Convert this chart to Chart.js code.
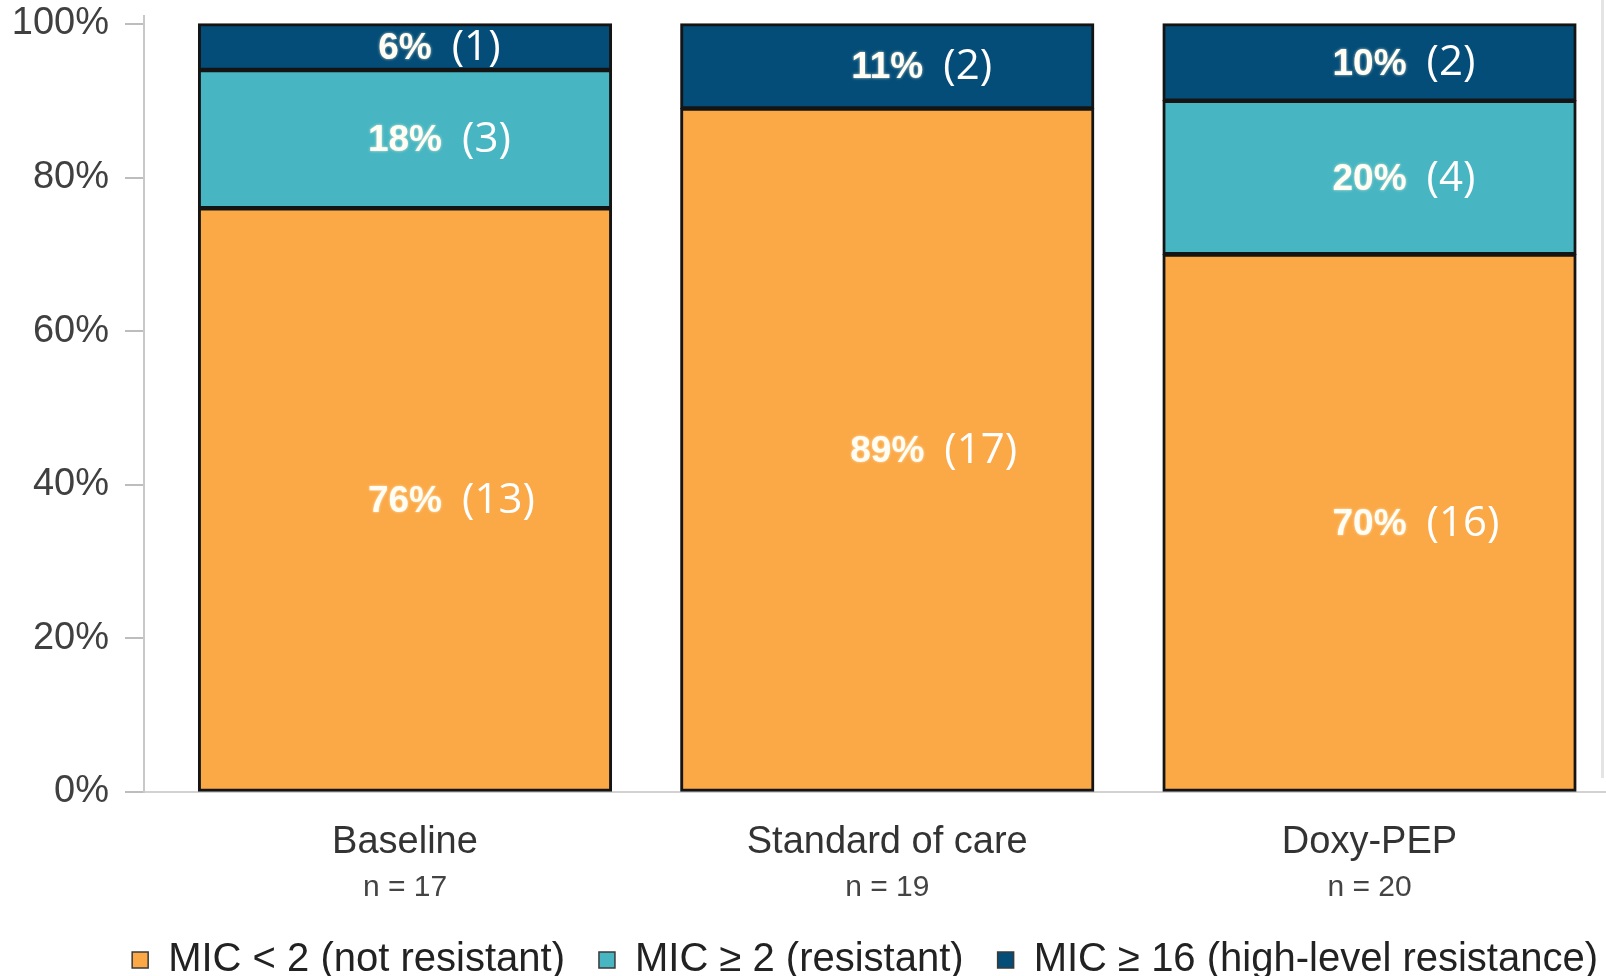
<!DOCTYPE html>
<html>
<head>
<meta charset="utf-8">
<script src="https://cdn.jsdelivr.net/npm/chart.js@4.4.1/dist/chart.umd.min.js"></script>
<style>
  html, body { margin: 0; padding: 0; background: #fff; overflow: hidden; }
  #wrap { position: relative; width: 1606px; height: 976px; overflow: hidden; }
  #c { position: absolute; left: 0; top: 0; }
  #edge { position: absolute; left: 1601px; top: 0; width: 3px; height: 778px; background: #e4e4e4; }
</style>
</head>
<body>
<div id="wrap">
  <canvas id="c" width="1632" height="976"></canvas>
  <div id="edge"></div>
</div>
<script>
// Categories and group sizes
const categories = ['Baseline', 'Standard of care', 'Doxy-PEP'];
const sampleSizes = ['n = 17', 'n = 19', 'n = 20'];

// Share of isolates per MIC class (%)
const notResistant = [76, 89, 70];
const resistant = [18, 0, 20];
const highLevel = [6, 11, 10];

// Isolate counts per MIC class
const notResistantCounts = [13, 17, 16];
const resistantCounts = [3, 0, 4];
const highLevelCounts = [1, 2, 2];

// Value-axis tick labels
const yTicks = [0, 20, 40, 60, 80, 100];

const seriesNames = ['MIC < 2 (not resistant)', 'MIC \u2265 2 (resistant)', 'MIC \u2265 16 (high-level resistance)'];
const seriesColors = ['#FBA846', '#47B6C2', '#044D78'];
const seriesValues = [notResistant, resistant, highLevel];
const seriesCounts = [notResistantCounts, resistantCounts, highLevelCounts];

const SANS = '"Liberation Sans", Arial, Helvetica, sans-serif';

// Writes "xx% (n)" inside each stacked segment
const segmentLabels = {
  id: 'segmentLabels',
  afterDatasetsDraw(chart) {
    const ctx = chart.ctx;
    chart.data.datasets.forEach((ds, di) => {
      const meta = chart.getDatasetMeta(di);
      meta.data.forEach((bar, i) => {
        const v = seriesValues[di][i];
        if (!v) return;
        const cy = (bar.y + bar.base) / 2 + 2;
        const pct = v + '%';
        const cnt = '(' + seriesCounts[di][i] + ')';
        ctx.save();
        ctx.textBaseline = 'middle';
        ctx.font = 'bold 37px ' + SANS;
        const w = ctx.measureText(pct).width;
        ctx.textAlign = 'center';
        ctx.shadowColor = 'rgba(255,248,220,0.75)';
        ctx.shadowBlur = 3;
        ctx.fillStyle = '#fffdf4';
        ctx.fillText(pct, bar.x, cy);
        ctx.shadowBlur = 0;
        ctx.shadowColor = 'rgba(0,0,0,0)';
        ctx.font = '42px "Open Sans", sans-serif';
        ctx.textAlign = 'left';
        ctx.fillStyle = '#ffffff';
        ctx.fillText(cnt, bar.x + w / 2 + 20, cy - 1);
        ctx.restore();
      });
    });
  }
};

const xMin = -0.5412;
const xMax = 2.5443;

const datasets = seriesNames.map((name, si) => ({
  label: name,
  data: seriesValues[si].map((v, i) => ({ x: i, y: v })),
  backgroundColor: seriesColors[si],
  borderColor: '#141414',
  borderWidth: { top: 3, bottom: 3, left: 3, right: 3 },
  borderSkipped: false,
  inflateAmount: 0.7,
  categoryPercentage: 1.0,
  barPercentage: 0.856,
  xAxisID: 'x',
  yAxisID: 'y'
}));

new Chart(document.getElementById('c'), {
  type: 'bar',
  data: { datasets },
  plugins: [segmentLabels],
  options: {
    responsive: false,
    devicePixelRatio: 1,
    animation: false,
    layout: { padding: { left: 0, top: 16, right: 0, bottom: -14 } },
    plugins: {
      tooltip: { enabled: false },
      legend: {
        position: 'bottom',
        align: 'end',
        labels: {
          font: { family: SANS, size: 40 },
          color: '#222',
          boxWidth: 16,
          boxHeight: 16,
          padding: 34,
          generateLabels: chart => Chart.defaults.plugins.legend.labels.generateLabels(chart)
            .map(l => Object.assign(l, { lineWidth: 1.5, strokeStyle: '#3a3a3a' }))
        }
      }
    },
    scales: {
      x: {
        type: 'linear',
        position: 'bottom',
        stacked: true,
        offset: false,
        min: xMin,
        max: xMax,
        weight: 0,
        afterBuildTicks: s => { s.ticks = categories.map((_, i) => ({ value: i })); },
        afterFit: s => { s.height = 70; s.paddingLeft = 0; s.paddingRight = 0; },
        ticks: {
          callback: v => categories[v],
          font: { family: SANS, size: 38 },
          color: '#333',
          padding: 20,
          maxRotation: 0,
          autoSkip: false
        },
        grid: { display: false, offset: false },
        border: { display: true, color: '#d2d2d2', width: 2 }
      },
      x2: {
        type: 'linear',
        position: 'bottom',
        offset: false,
        min: xMin,
        max: xMax,
        weight: 1,
        afterBuildTicks: s => { s.ticks = categories.map((_, i) => ({ value: i })); },
        afterFit: s => { s.height = 44; s.paddingLeft = 0; s.paddingRight = 0; },
        ticks: {
          callback: v => sampleSizes[v],
          font: { family: SANS, size: 30 },
          color: '#444',
          padding: 0,
          maxRotation: 0,
          autoSkip: false
        },
        grid: { display: false, offset: false },
        border: { display: false }
      },
      y: {
        stacked: true,
        min: 0,
        max: 101.04,
        afterBuildTicks: s => { s.ticks = yTicks.map(v => ({ value: v })); },
        afterFit: s => { s.width = 144; s.paddingTop = 0; s.paddingBottom = 0; },
        ticks: {
          callback: v => v + '%',
          font: { family: SANS, size: 38 },
          color: '#404040',
          padding: 16,
          autoSkip: false
        },
        grid: { drawOnChartArea: false, tickLength: 19, color: '#bdbdbd', lineWidth: 2 },
        border: { color: '#c8c8c8', width: 2 }
      }
    }
  }
});
</script>
</body>
</html>
